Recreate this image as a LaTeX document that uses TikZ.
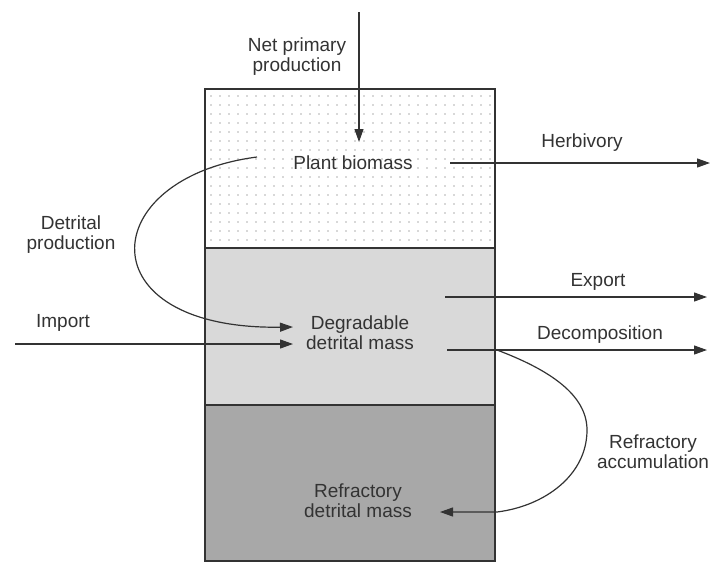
\documentclass[tikz,border=0pt]{standalone}
\usepackage{fontspec}
\setmainfont{Liberation Sans}
\usetikzlibrary{arrows.meta}
\definecolor{ink}{HTML}{333333}
\definecolor{degrgray}{HTML}{D9D9D9}
\definecolor{refrgray}{HTML}{A8A8A8}

\begin{document}
\begin{tikzpicture}[x = 1pt, y = -1pt,
    flow/.style = {draw = ink, line width = 1.2pt, -{Triangle[length = 13pt, width = 9pt]}},
    lbl/.style = {text = ink, font = \fontsize{19}{20}\selectfont, align = center, inner sep = 0pt},
    layer/.style = {draw = ink, line width = 1.6pt, minimum width = 290pt, inner sep = 0pt}]
    \useasboundingbox (0, 0) rectangle (713, 563);
    % the three pools
    \node [layer, fill = white, minimum height = 159pt] (plantbox) at (350, 168.5) {};
    \node [layer, fill = degrgray, minimum height = 157pt] (degrbox) at (350, 326.5) {};
    \node [layer, fill = refrgray, minimum height = 156pt] (refrbox) at (350, 483) {};
    \foreach \i in {0,...,31}
        \foreach \j in {0,...,16}
            \fill [gray!60] (211 + 9*\i, 96 + 9*\j) circle (0.8pt);
    % labels
    \node [lbl] (nppl) at (297, 57) {Net primary\\production};
    \node [lbl] (plant) at (353, 163) {Plant biomass};
    \node [lbl] (herbl) at (582, 143) {Herbivory};
    \node [lbl] (detl) at (71, 235) {Detrital\\production};
    \node [lbl] (impl) at (63, 323) {Import};
    \node [lbl] (degr) at (360, 333) {Degradable\\detrital mass};
    \node [lbl] (expl) at (598, 282) {Export};
    \node [lbl] (decl) at (600, 335) {Decomposition};
    \node [lbl] (refl) at (653, 452) {Refractory\\accumulation};
    \node [lbl] (refr) at (358, 501) {Refractory\\detrital mass};
    % flows
    \coordinate (nppin) at (359, 12);
    \coordinate (nppout) at (359, 142);
    \coordinate (herbin) at (450, 163);
    \coordinate (herbout) at (710, 163);
    \coordinate (detin) at (257, 157);
    \coordinate (detout) at (293, 327);
    \coordinate (impin) at (15, 344);
    \coordinate (impout) at (293, 344);
    \coordinate (expin) at (445, 297);
    \coordinate (expout) at (707, 297);
    \coordinate (decin) at (447, 350);
    \coordinate (decout) at (707, 350);
    \coordinate (refin) at (497, 350);
    \coordinate (refout) at (440, 512);
    \draw [flow] (nppin) -- (nppout);
    \draw [flow] (herbin) -- (herbout);
    \draw [flow] (detin) .. controls (95, 178) and (85, 330) .. (detout);
    \draw [flow] (impin) -- (impout);
    \draw [flow] (expin) -- (expout);
    \draw [flow] (decin) -- (decout);
    \draw [flow] (refin) .. controls (550, 370) and (587, 395) .. (587, 430)
        .. controls (587, 475) and (545, 506) .. (497, 512) -- (refout);
\end{tikzpicture}
\end{document}
